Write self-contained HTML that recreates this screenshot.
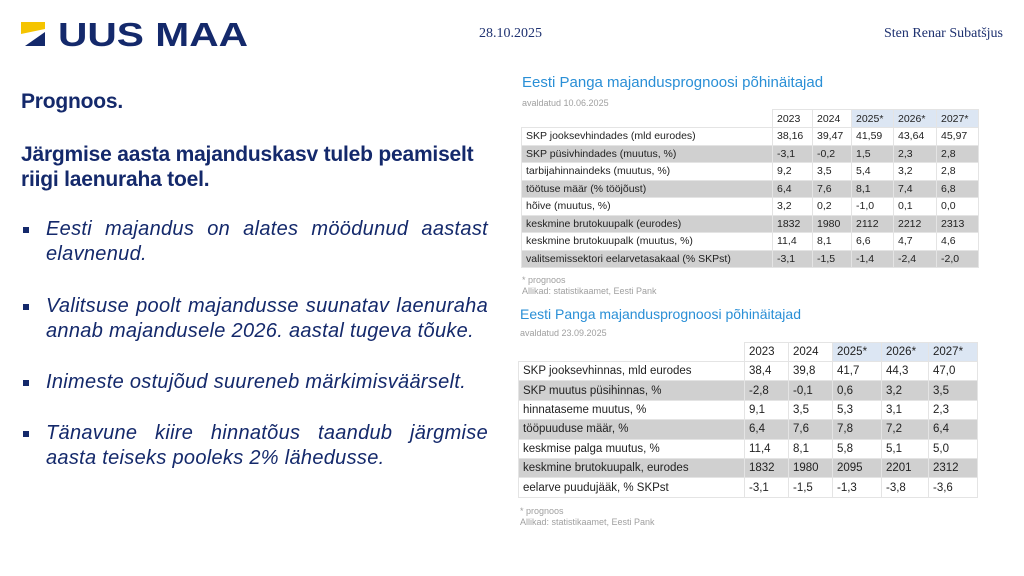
<!DOCTYPE html>
<html><head><meta charset="utf-8"><style>
*{margin:0;padding:0;box-sizing:border-box}
body{width:1024px;height:576px;background:#fff;position:relative;overflow:hidden;font-family:"Liberation Sans",sans-serif;color:#0f2a6b}
.a{position:absolute;white-space:nowrap}
.h{font-weight:bold;font-size:21px;color:#14296b;letter-spacing:-0.2px}
.b{position:absolute;font-style:italic;font-size:20px;color:#14296b;line-height:25px;width:442px;letter-spacing:0.3px}
.j{text-align:justify;text-align-last:justify}
.sq{position:absolute;width:6px;height:6px;background:#14296b}
.ser{font-family:"Liberation Serif",serif;font-size:14px;color:#1e3170}
.t1{position:absolute;color:#2a8fd6;font-size:15px}
.sub{position:absolute;color:#a0a0a0;font-size:9px}
table{position:absolute;border-collapse:collapse;table-layout:fixed;font-size:10.5px;color:#222}
td{padding:0 0 0 4px;border:1px solid #e4e4e4;white-space:nowrap;overflow:hidden}
tr.g td{background:#d0d0d0}
td.bl{background:#dce6f3}
td.e{border:none;background:#fff}
</style></head><body>
<svg class="a" style="left:21px;top:20px" width="240" height="30">
<polygon points="0,2 24,2 24,9 0,14" fill="#f5c400"/>
<polygon points="4,26 24,12 24,26" fill="#14296b"/>
<text x="37" y="26" font-family="Liberation Sans" font-weight="bold" font-size="33" fill="#14296b" textLength="190" lengthAdjust="spacingAndGlyphs">UUS MAA</text>
</svg>
<div class="a ser" style="left:479px;top:26px">28.10.2025</div>
<div class="a ser" style="right:21px;top:26px">Sten Renar Subatšjus</div>

<div class="a h" style="left:21px;top:90px">Prognoos.</div>
<div class="a h" style="left:21px;top:142px;line-height:25px">Järgmise aasta majanduskasv tuleb peamiselt<br>riigi laenuraha toel.</div>

<div class="sq" style="left:23px;top:227px"></div>
<div class="b j" style="left:46px;top:217px">Eesti majandus on alates möödunud aastast</div>
<div class="b" style="left:46px;top:242px">elavnenud.</div>
<div class="sq" style="left:23px;top:304px"></div>
<div class="b j" style="left:46px;top:294px">Valitsuse poolt majandusse suunatav laenuraha</div>
<div class="b" style="left:46px;top:319px">annab majandusele 2026. aastal tugeva tõuke.</div>
<div class="sq" style="left:23px;top:380px"></div>
<div class="b" style="left:46px;top:370px">Inimeste ostujõud suureneb märkimisväärselt.</div>
<div class="sq" style="left:23px;top:431px"></div>
<div class="b j" style="left:46px;top:421px">Tänavune kiire hinnatõus taandub järgmise</div>
<div class="b" style="left:46px;top:446px">aasta teiseks pooleks 2% lähedusse.</div>

<div class="t1" style="left:522px;top:74px">Eesti Panga majandusprognoosi põhinäitajad</div>
<div class="sub" style="left:522px;top:98px">avaldatud 10.06.2025</div>
<table style="left:521px;top:109px;width:457px">
<colgroup><col style="width:251px"><col style="width:40px"><col style="width:39px"><col style="width:42px"><col style="width:43px"><col style="width:42px"></colgroup>
<tr style="height:18px"><td class="e"></td><td>2023</td><td>2024</td><td class="bl">2025*</td><td class="bl">2026*</td><td class="bl">2027*</td></tr>
<tr style="height:17.5px"><td>SKP jooksevhindades (mld eurodes)</td><td>38,16</td><td>39,47</td><td>41,59</td><td>43,64</td><td>45,97</td></tr>
<tr class="g" style="height:17.5px"><td>SKP püsivhindades (muutus, %)</td><td>-3,1</td><td>-0,2</td><td>1,5</td><td>2,3</td><td>2,8</td></tr>
<tr style="height:17.5px"><td>tarbijahinnaindeks (muutus, %)</td><td>9,2</td><td>3,5</td><td>5,4</td><td>3,2</td><td>2,8</td></tr>
<tr class="g" style="height:17.5px"><td>töötuse määr (% tööjõust)</td><td>6,4</td><td>7,6</td><td>8,1</td><td>7,4</td><td>6,8</td></tr>
<tr style="height:17.5px"><td>hõive (muutus, %)</td><td>3,2</td><td>0,2</td><td>-1,0</td><td>0,1</td><td>0,0</td></tr>
<tr class="g" style="height:17.5px"><td>keskmine brutokuupalk (eurodes)</td><td>1832</td><td>1980</td><td>2112</td><td>2212</td><td>2313</td></tr>
<tr style="height:17.5px"><td>keskmine brutokuupalk (muutus, %)</td><td>11,4</td><td>8,1</td><td>6,6</td><td>4,7</td><td>4,6</td></tr>
<tr class="g" style="height:17.5px"><td>valitsemissektori eelarvetasakaal (% SKPst)</td><td>-3,1</td><td>-1,5</td><td>-1,4</td><td>-2,4</td><td>-2,0</td></tr>
</table>
<div class="sub" style="left:522px;top:275px">* prognoos</div>
<div class="sub" style="left:522px;top:286px">Allikad: statistikaamet, Eesti Pank</div>

<div class="t1" style="left:520px;top:306px;font-size:14px">Eesti Panga majandusprognoosi põhinäitajad</div>
<div class="sub" style="left:520px;top:328px">avaldatud 23.09.2025</div>
<table style="left:518px;top:342px;width:459px;font-size:11.5px">
<colgroup><col style="width:226px"><col style="width:44px"><col style="width:44px"><col style="width:49px"><col style="width:47px"><col style="width:49px"></colgroup>
<tr style="height:19px"><td class="e"></td><td>2023</td><td>2024</td><td class="bl">2025*</td><td class="bl">2026*</td><td class="bl">2027*</td></tr>
<tr style="height:19.4px"><td>SKP jooksevhinnas, mld eurodes</td><td>38,4</td><td>39,8</td><td>41,7</td><td>44,3</td><td>47,0</td></tr>
<tr class="g" style="height:19.4px"><td>SKP muutus püsihinnas, %</td><td>-2,8</td><td>-0,1</td><td>0,6</td><td>3,2</td><td>3,5</td></tr>
<tr style="height:19.4px"><td>hinnataseme muutus, %</td><td>9,1</td><td>3,5</td><td>5,3</td><td>3,1</td><td>2,3</td></tr>
<tr class="g" style="height:19.4px"><td>tööpuuduse määr, %</td><td>6,4</td><td>7,6</td><td>7,8</td><td>7,2</td><td>6,4</td></tr>
<tr style="height:19.4px"><td>keskmise palga muutus, %</td><td>11,4</td><td>8,1</td><td>5,8</td><td>5,1</td><td>5,0</td></tr>
<tr class="g" style="height:19.4px"><td>keskmine brutokuupalk, eurodes</td><td>1832</td><td>1980</td><td>2095</td><td>2201</td><td>2312</td></tr>
<tr style="height:19.4px"><td>eelarve puudujääk, % SKPst</td><td>-3,1</td><td>-1,5</td><td>-1,3</td><td>-3,8</td><td>-3,6</td></tr>
</table>
<div class="sub" style="left:520px;top:506px">* prognoos</div>
<div class="sub" style="left:520px;top:517px">Allikad: statistikaamet, Eesti Pank</div>
</body></html>
